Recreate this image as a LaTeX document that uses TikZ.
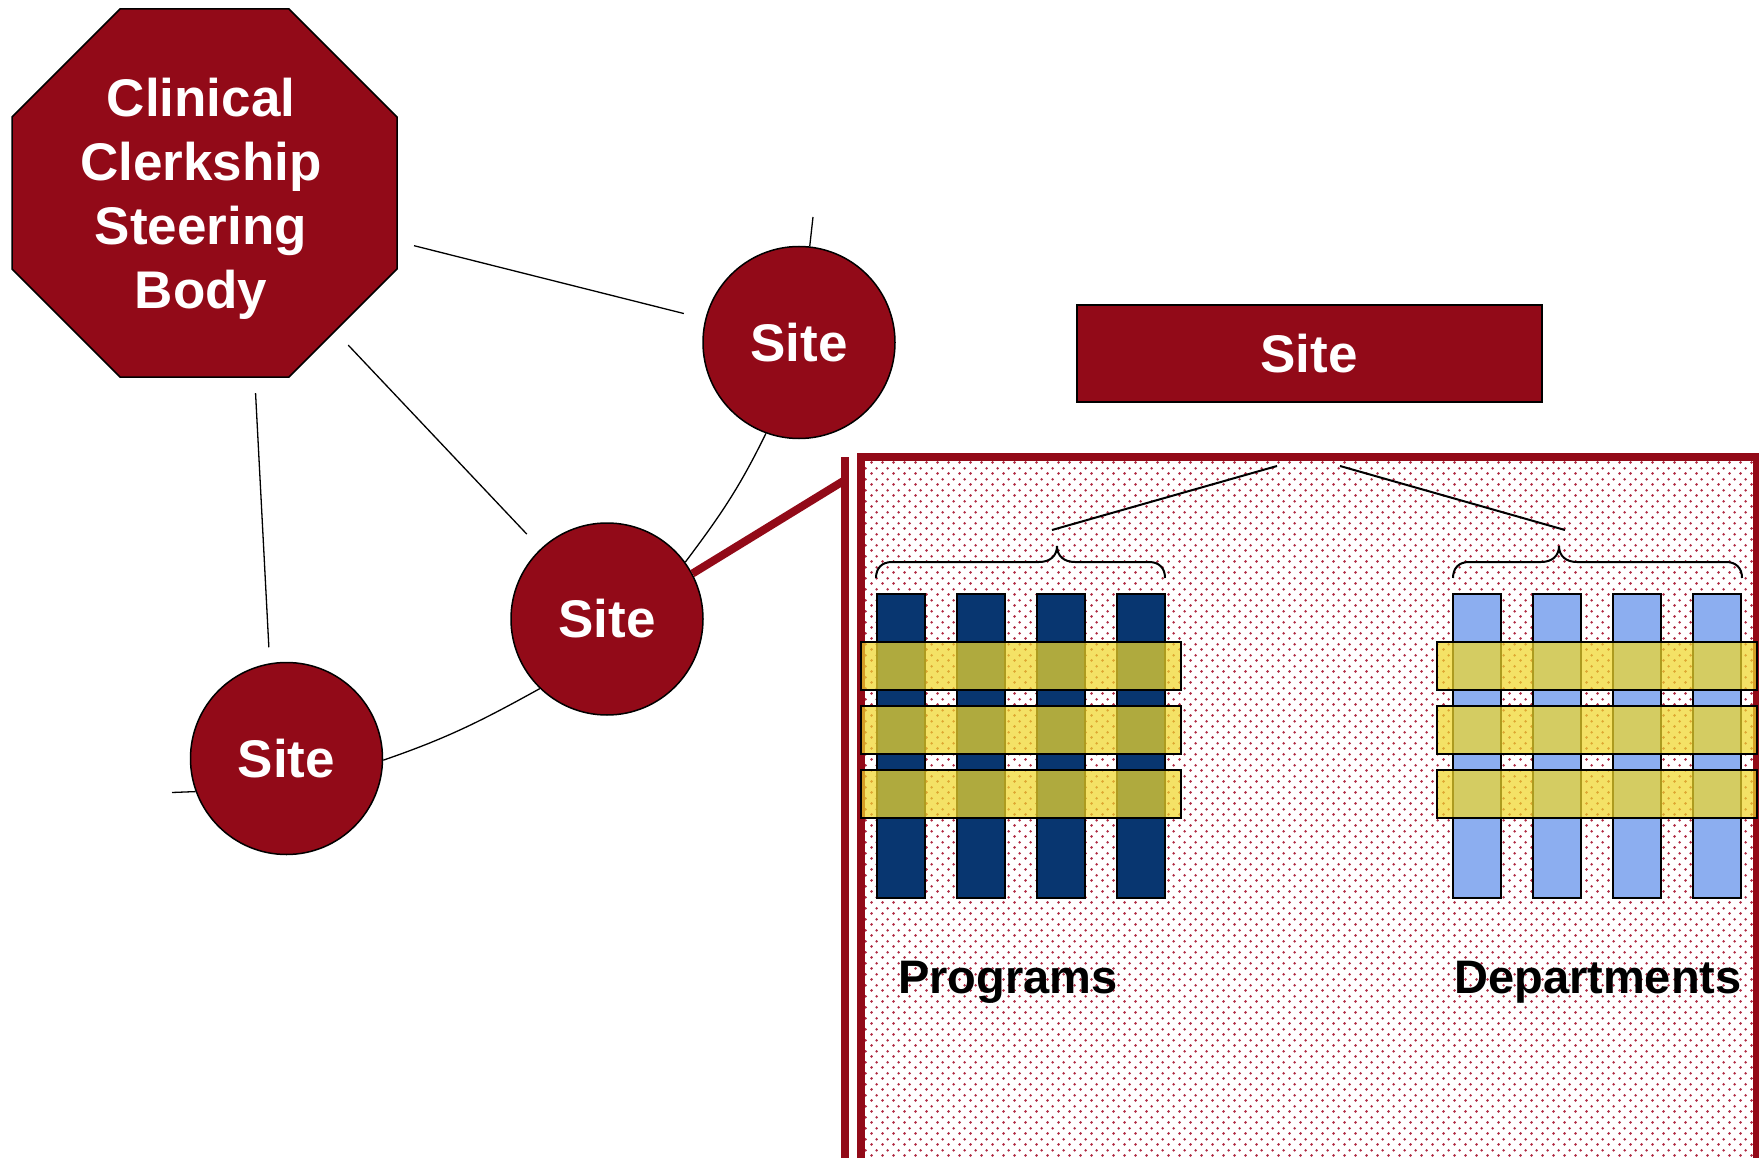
\documentclass[tikz,border=0pt]{standalone}
\usepackage{fontspec}
\setmainfont{Liberation Sans}
\usetikzlibrary{shapes.geometric,patterns.meta}

\definecolor{siteRed}{RGB}{146,10,24}
\definecolor{navy}{RGB}{8,54,112}
\definecolor{paleBlue}{RGB}{140,174,240}
\definecolor{bandYellow}{RGB}{240,216,44}
\definecolor{dotRed}{RGB}{175,40,65}

% staggered dot screen for the detail panel
\tikzdeclarepattern{
  name=pinkdots,
  type=uncolored,
  bounding box={(0pt,0pt) and (10.6pt,10.6pt)},
  tile size={(10.6pt,10.6pt)},
  code={
    \fill (2.65pt,2.65pt) circle[radius=1.45pt];
    \fill (7.95pt,7.95pt) circle[radius=1.45pt];
  }
}

\begin{document}
\begin{tikzpicture}[x=1pt, y=-1pt,
  every node/.style={inner sep=0pt},
  redfill/.style={fill=siteRed, draw=black, line width=1.5pt, text=white},
  sitefont/.style={font=\fontsize{53}{63}\selectfont\bfseries},
  sitecircle/.style={redfill, circle, minimum size=192pt, sitefont},
  siterect/.style={redfill, rectangle, line width=2pt, minimum width=465pt, minimum height=96pt, sitefont},
  octagon/.style={regular polygon, regular polygon sides=8, minimum size=407pt},
  octtext/.style={text=white, align=center, font=\fontsize{53}{64}\selectfont\bfseries},
  link/.style={draw=black, line width=1.3pt},
  feed/.style={draw=siteRed, line width=8pt},
  treeline/.style={draw=black, line width=2pt},
  progbar/.style={fill=navy, draw=black, line width=1.5pt},
  deptbar/.style={fill=paleBlue, draw=black, line width=1.5pt},
  band/.style={fill=bandYellow, fill opacity=0.72, draw=black, line width=1.5pt},
  grouplabel/.style={anchor=base, text=black, font=\fontsize{47}{56}\selectfont\bfseries},
]
\useasboundingbox (0,0) rectangle (1759,1158);
\clip (0,0) rectangle (1759,1158);

% ---- detail panel of one site ----
\fill[white] (861,457) rectangle (1757,1175);
\fill[pattern=pinkdots, pattern color=dotRed] (861,457) rectangle (1757,1175);
\draw[siteRed, line width=8pt] (861,1175) -- (861,457) -- (1757,457) -- (1757,1175);
\draw[siteRed, line width=8pt] (845,457) -- (845,1175);
\coordinate (barjoin) at (845,480);

% programs (dark) and departments (light)
\foreach \x in {877,957,1037,1117}
  \draw[progbar] (\x,594) rectangle ++(48,304);
\foreach \x in {1453,1533,1613,1693}
  \draw[deptbar] (\x,594) rectangle ++(48,304);
\foreach \y in {642,706,770} {
  \draw[band] (861,\y) rectangle ++(320,48);
  \draw[band] (1437,\y) rectangle ++(320,48);
}

% braces over the two groups
\draw[treeline] (876,578) .. controls (876,568) and (882,562) .. (892,562)
  -- (1039,562) .. controls (1050,562) and (1057,556) .. (1057,546)
  .. controls (1057,556) and (1064,562) .. (1075,562)
  -- (1149,562) .. controls (1159,562) and (1165,568) .. (1165,578);
\draw[treeline] (1453,578) .. controls (1453,568) and (1459,562) .. (1469,562)
  -- (1541,562) .. controls (1552,562) and (1559,556) .. (1559,546)
  .. controls (1559,556) and (1566,562) .. (1577,562)
  -- (1726,562) .. controls (1736,562) and (1742,568) .. (1742,578);

\coordinate (progtop) at (1277,466);
\coordinate (progend) at (1052,530);
\coordinate (depttop) at (1340,466);
\coordinate (deptend) at (1565,530);
\draw[treeline] (progtop) -- (progend);
\draw[treeline] (depttop) -- (deptend);

\node[grouplabel] (programs) at (1008,993) {Programs};
\node[grouplabel] (departments) at (1598,993) {Departments};

% ---- network of sites ----
% steering body: octagon slightly wider than tall
\node[octagon] (csb) at (204.5,193) {};
\draw[redfill] (120,9) -- (289,9) -- (397,117) -- (397,269) -- (289,377)
  -- (120,377) -- (12,269) -- (12,117) -- cycle;
\node[octtext] (csbtext) at ([xshift=-3.5pt,yshift=-6pt]csb.center) {Clinical\\Clerkship\\Steering\\Body};
\node[sitecircle] (ts) at (799,342.5) {Site};
\node[sitecircle] (ms) at (607,619) {Site};
\node[sitecircle] (bs) at (286.5,758.5) {Site};
\node[siterect] (siter) at (1309,353.5) {Site};

\coordinate (tsup) at (813,217);
\coordinate (bsleft) at (172,792.5);

\draw[link, shorten <=22pt, shorten >=22pt] (csb) -- (ts);
\draw[link, shorten <=21pt, shorten >=20pt] (csb) -- (ms);
\draw[link, shorten <=12pt, shorten >=16pt] (csb.285) -- (bs.100);
\draw[link] (tsup) -- (ts);
\draw[link] (bsleft) -- (bs.200.7);
\draw[link] (ts.250) to[out=244, in=53] (ms.36);
\draw[link] (ms.226) to[out=209, in=19] (bs.359);
\draw[feed] (ms.28) -- (barjoin);
\end{tikzpicture}
\end{document}
